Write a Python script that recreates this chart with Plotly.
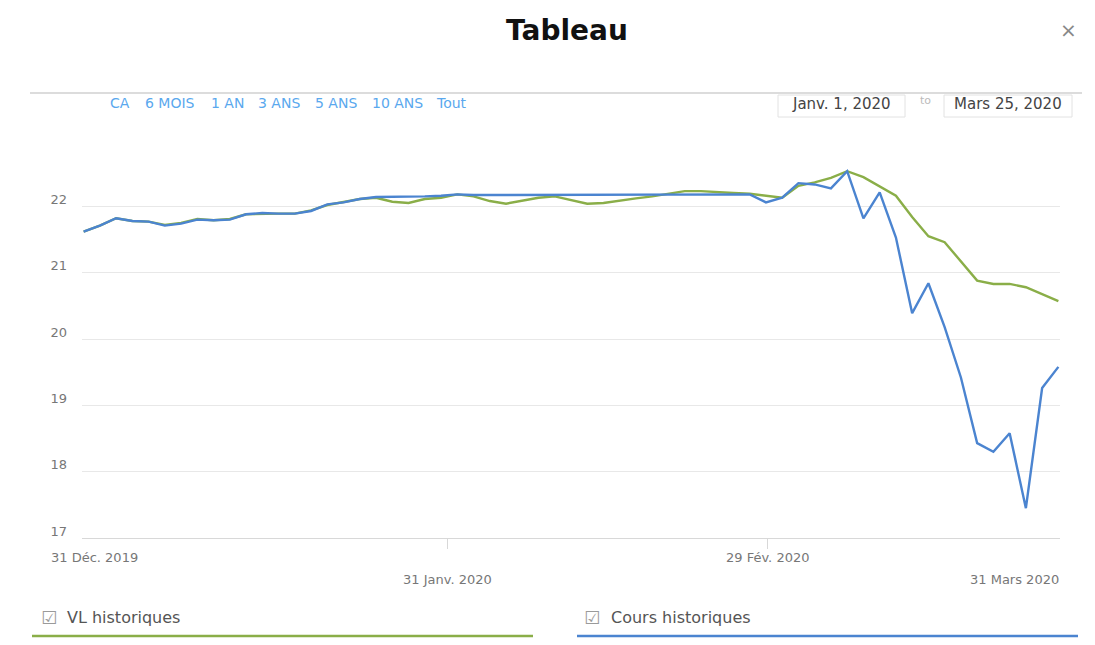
import pandas as pd
import plotly.graph_objects as go

# ---------------- data ----------------
trading_days = [d for d in pd.bdate_range("2019-12-31", "2020-03-25") if d != pd.Timestamp("2020-01-01")]
date_labels = [d.strftime("%d/%m/%Y") for d in trading_days]

vl_historiques = [
    21.62, 21.71, 21.82, 21.78, 21.77, 21.72, 21.75, 21.81, 21.79, 21.81,
    21.88, 21.89, 21.89, 21.89, 21.94, 22.02, 22.06, 22.11, 22.13, 22.07,
    22.05, 22.11, 22.13, 22.18, 22.15, 22.08, 22.04, 22.08, 22.13, 22.15,
    22.09, 22.04, 22.05, 22.09, 22.12, 22.15, 22.19, 22.23, 22.23, 22.21,
    22.20, 22.19, 22.16, 22.13, 22.31, 22.36, 22.43, 22.53, 22.44, 22.30,
    22.16, 21.84, 21.55, 21.46, 21.17, 20.88, 20.83, 20.83, 20.78, 20.68,
    20.57,
]
cours_historiques = [
    21.62, 21.71, 21.82, 21.78, 21.77, 21.71, 21.74, 21.80, 21.79, 21.80,
    21.88, 21.90, 21.89, 21.89, 21.93, 22.03, 22.06, 22.11, 22.14, 22.14,
    22.15, 22.15, 22.16, 22.18, 22.17, 22.17, 22.17, 22.17, 22.18, 22.18,
    22.18, 22.18, 22.18, 22.18, 22.18, 22.18, 22.18, 22.18, 22.18, 22.18,
    22.18, 22.18, 22.06, 22.13, 22.35, 22.33, 22.27, 22.53, 21.82, 22.21,
    21.53, 20.39, 20.84, 20.18, 19.42, 18.43, 18.30, 18.58, 17.45, 19.26,
    19.58,
]
y_ticks = [17, 18, 19, 20, 21, 22, 23]
y_tick_text = ["17", "18", "19", "20", "21", "22", ""]
x_tick_pos = [22.4, 42.1]
x_labels = ["31 Déc. 2019", "31 Janv. 2020", "29 Fév. 2020", "31 Mars 2020"]
range_buttons = ["CA", "6 MOIS", "1 AN", "3 ANS", "5 ANS", "10 ANS", "Tout"]
date_from = "Janv. 1, 2020"
date_to = "Mars 25, 2020"
series_names = ["VL historiques", "Cours historiques"]

# ---------------- style ----------------
W, H = 1095, 645
L, R, T, B = 82, 35, 140, 107
PW, PH = W - L - R, H - T - B
GREEN = "#8aae48"
BLUE = "#4b84d0"
FONT = "DejaVu Sans"


def px(x):
    return (x - L) / PW


def py(y):
    return (H - B - y) / PH


def text_at(text, x, y, size, color, family=FONT, xanchor="center"):
    return dict(text=text, x=px(x), y=py(y), xref="paper", yref="paper",
                xanchor=xanchor, yanchor="middle", showarrow=False,
                font=dict(family=family, size=size, color=color))


idx = list(range(len(trading_days)))

fig = go.Figure()
fig.add_trace(go.Scatter(x=idx, y=vl_historiques, mode="lines", name=series_names[0],
                         line=dict(color=GREEN, width=2.4), customdata=date_labels,
                         hovertemplate="%{customdata}<br>%{y:.2f}<extra>VL</extra>"))
fig.add_trace(go.Scatter(x=idx, y=cours_historiques, mode="lines", name=series_names[1],
                         line=dict(color=BLUE, width=2.4), customdata=date_labels,
                         hovertemplate="%{customdata}<br>%{y:.2f}<extra>Cours</extra>"))

ann = []
shapes = []

# title & close
ann.append(text_at("<b>Tableau</b>", 567, 31, 28, "#111", family="DejaVu Sans"))
ann.append(text_at("×", 1068, 30, 20, "#888"))

# header separator line
shapes.append(dict(type="line", xref="paper", yref="paper", x0=px(30), x1=px(1082),
                   y0=py(93), y1=py(93), line=dict(color="#dcdcdc", width=2)))

# range selector buttons
btn_centers = [120, 170, 227, 279, 336, 397, 451]
for t, cx in zip(range_buttons, btn_centers):
    ann.append(text_at(t, cx, 103, 14, "#5aa8ee"))

# date inputs
for (x0, x1, txt) in [(778, 905, date_from), (944, 1072, date_to)]:
    shapes.append(dict(type="rect", xref="paper", yref="paper", x0=px(x0), x1=px(x1),
                       y0=py(95), y1=py(117), line=dict(color="#e2e2e2", width=1),
                       fillcolor="white", layer="below"))
    ann.append(text_at(txt, (x0 + x1) / 2, 104, 15, "#444"))
ann.append(text_at("to", 925, 101, 11, "#bbb"))

# x-axis labels (staggered)
xl_font = dict(family=FONT, size=13, color="#777")
ann.append(dict(text=x_labels[0], x=0, xref="x", y=0, yref="paper", xanchor="center",
                yanchor="middle", xshift=11, yshift=-19, showarrow=False, font=xl_font))
ann.append(dict(text=x_labels[1], x=x_tick_pos[0], xref="x", y=0, yref="paper", xanchor="center",
                yanchor="middle", yshift=-41, showarrow=False, font=xl_font))
ann.append(dict(text=x_labels[2], x=x_tick_pos[1], xref="x", y=0, yref="paper", xanchor="center",
                yanchor="middle", yshift=-19, showarrow=False, font=xl_font))
ann.append(dict(text=x_labels[3], x=len(idx) - 1, xref="x", y=0, yref="paper", xanchor="right",
                yanchor="middle", xshift=3, yshift=-41, showarrow=False, font=xl_font))

# custom legend
for name, col, cb_x, txt_x, lx0, lx1 in [(series_names[0], GREEN, 49, 65, 32, 533),
                                          (series_names[1], BLUE, 592, 609, 577, 1078)]:
    ann.append(text_at("☑", cb_x, 617, 18, "#9a9a9a"))
    ann.append(text_at(name, txt_x, 617, 16, "#555", xanchor="left"))
    shapes.append(dict(type="line", xref="paper", yref="paper", x0=px(lx0), x1=px(lx1),
                       y0=py(636), y1=py(636), line=dict(color=col, width=2.5)))

fig.update_layout(
    width=W, height=H,
    margin=dict(l=L, r=R, t=T, b=B),
    paper_bgcolor="white", plot_bgcolor="white",
    showlegend=False,
    annotations=ann, shapes=shapes,
    xaxis=dict(range=[-0.1, len(idx) - 0.9], showgrid=False, zeroline=False,
               showline=True, linecolor="#d8d8d8", linewidth=1,
               tickmode="array", tickvals=x_tick_pos, ticktext=["", ""],
               ticks="outside", ticklen=10, tickcolor="#d8d8d8", showticklabels=False,
               fixedrange=True),
    yaxis=dict(range=[17, 23], tickmode="array", tickvals=y_ticks, ticktext=y_tick_text,
               showgrid=True, gridcolor="#e8e8e8", gridwidth=1, zeroline=False,
               showline=False, ticks="", ticklabelstandoff=14, ticklabelshift=-7,
               tickfont=dict(family=FONT, size=13, color="#777"), fixedrange=True),
    hovermode="x unified",
)

fig.write_html("out.html")
